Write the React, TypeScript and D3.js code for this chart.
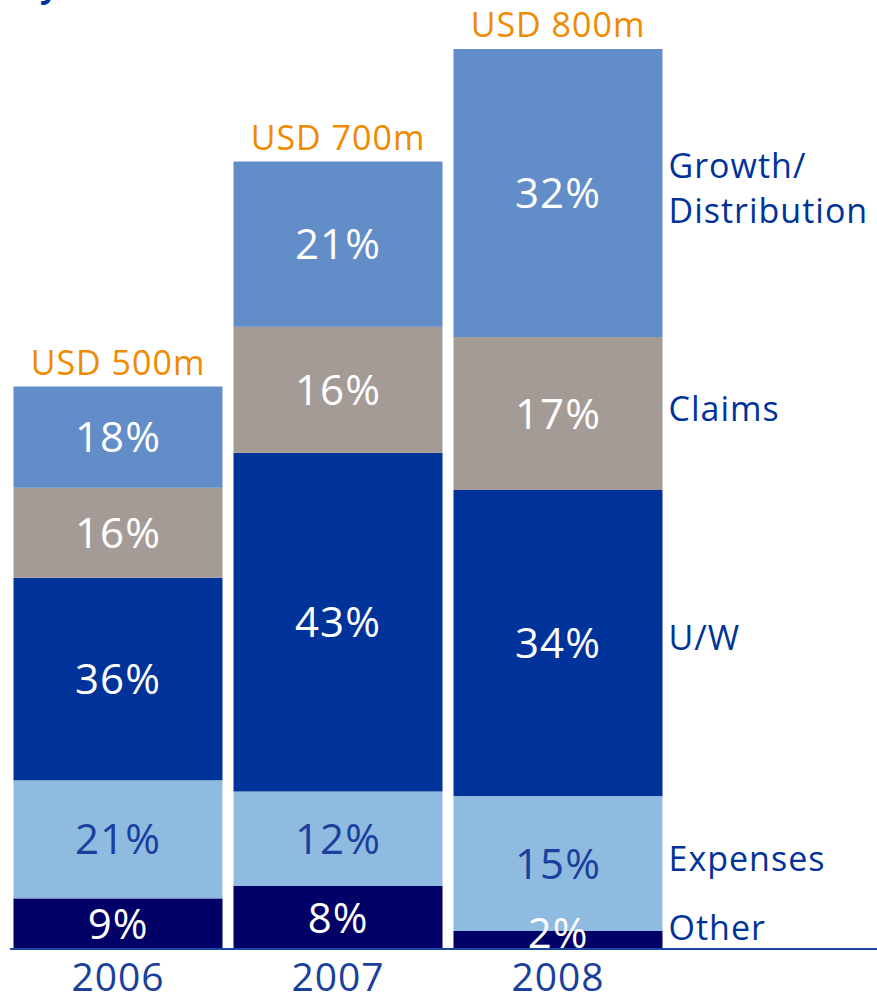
import React from 'react';
import * as d3 from 'd3';

// data
const years = ['2006', '2007', '2008'];
const totals = [500, 700, 800];
const totalLabels = ['USD 500m', 'USD 700m', 'USD 800m'];
const categories = ['Other', 'Expenses', 'U/W', 'Claims', 'Growth/Distribution'];
const other = [9, 8, 2];
const expenses = [21, 12, 15];
const underwriting = [36, 43, 34];
const claims = [16, 16, 17];
const growth = [18, 21, 32];

const colors = ['#000066', '#8fbbe0', '#003399', '#a59b96', '#628dc8'];
const textColors = ['#ffffff', '#1a3f9c', '#ffffff', '#ffffff', '#ffffff'];

const W = 877;
const H = 999;
const font = '"Open Sans", "Noto Sans", sans-serif';
const BASE = 949;

const App = () => {
  const shares = [other, expenses, underwriting, claims, growth];

  const x = d3.scaleBand<string>()
    .domain(years)
    .range([13.5, 662.5])
    .paddingInner(0.05)
    .paddingOuter(0);

  const y = d3.scaleLinear()
    .domain([0, 800])
    .range([BASE, 49]);

  // stack of absolute values (USD m) per year
  const rows = years.map((yr, i) => {
    const row: any = { year: yr };
    categories.forEach((c, k) => { row[c] = (shares[k][i] / 100) * totals[i]; });
    return row;
  });
  const stacked = d3.stack<any>().keys(categories)(rows);

  const last = years.length - 1;
  const labelX = (x(years[last]) as number) + x.bandwidth() + 6;
  const midOf = (d: any) => Math.min((y(d[0]) + y(d[1])) / 2, BASE - 16);

  return (
    <svg width={W} height={H} style={{ position: 'absolute', left: 0, top: 0, background: '#fff' }}>
      {/* clipped title fragment at the very top */}
      <text x={40} y={-3} fontFamily={font} fontSize={32} fontWeight="bold" fill="#003399">y</text>

      {/* bar segments */}
      {stacked.map((layer, k) => (
        <g key={layer.key}>
          {layer.map((d, i) => (
            <rect
              key={years[i]}
              x={x(years[i]) as number}
              y={y(d[1])}
              width={x.bandwidth()}
              height={y(d[0]) - y(d[1])}
              fill={colors[k]}
            />
          ))}
        </g>
      ))}

      {/* percentage labels, drawn after all rects */}
      {stacked.map((layer, k) => (
        <g key={'t' + layer.key}>
          {layer.map((d, i) => (
            <text
              key={years[i]}
              x={(x(years[i]) as number) + x.bandwidth() / 2}
              y={midOf(d)}
              dy="0.36em"
              textAnchor="middle"
              fontFamily={font}
              fontSize={42}
              letterSpacing={1}
              fill={textColors[k]}
            >
              {shares[k][i]}%
            </text>
          ))}
        </g>
      ))}

      {/* totals above bars */}
      {years.map((yr, i) => (
        <text
          key={yr}
          x={(x(yr) as number) + x.bandwidth() / 2}
          y={y(totals[i]) - 12}
          textAnchor="middle"
          fontFamily={font}
          fontSize={34}
          letterSpacing={1}
          fill="#f08a00"
        >
          {totalLabels[i]}
        </text>
      ))}

      {/* baseline */}
      <line x1={10} x2={877} y1={BASE} y2={BASE} stroke="#1a47a0" strokeWidth={2} />

      {/* year labels */}
      {years.map((yr) => (
        <text
          key={yr}
          x={(x(yr) as number) + x.bandwidth() / 2}
          y={991}
          textAnchor="middle"
          fontFamily={font}
          fontSize={39}
          letterSpacing={1}
          fill="#1a3f9c"
        >
          {yr}
        </text>
      ))}

      {/* category labels to the right of the last bar */}
      {stacked.map((layer) => {
        const mid = midOf(layer[last]) - 5;
        const parts = layer.key === 'Growth/Distribution' ? ['Growth/', 'Distribution'] : [layer.key];
        return (
          <text key={layer.key} fontFamily={font} fontSize={34} letterSpacing={1} fill="#003399">
            {parts.map((p, j) => (
              <tspan key={p} x={labelX} y={mid + (j - (parts.length - 1) / 2) * 45} dy="0.36em">{p}</tspan>
            ))}
          </text>
        );
      })}
    </svg>
  );
};

export default App;
